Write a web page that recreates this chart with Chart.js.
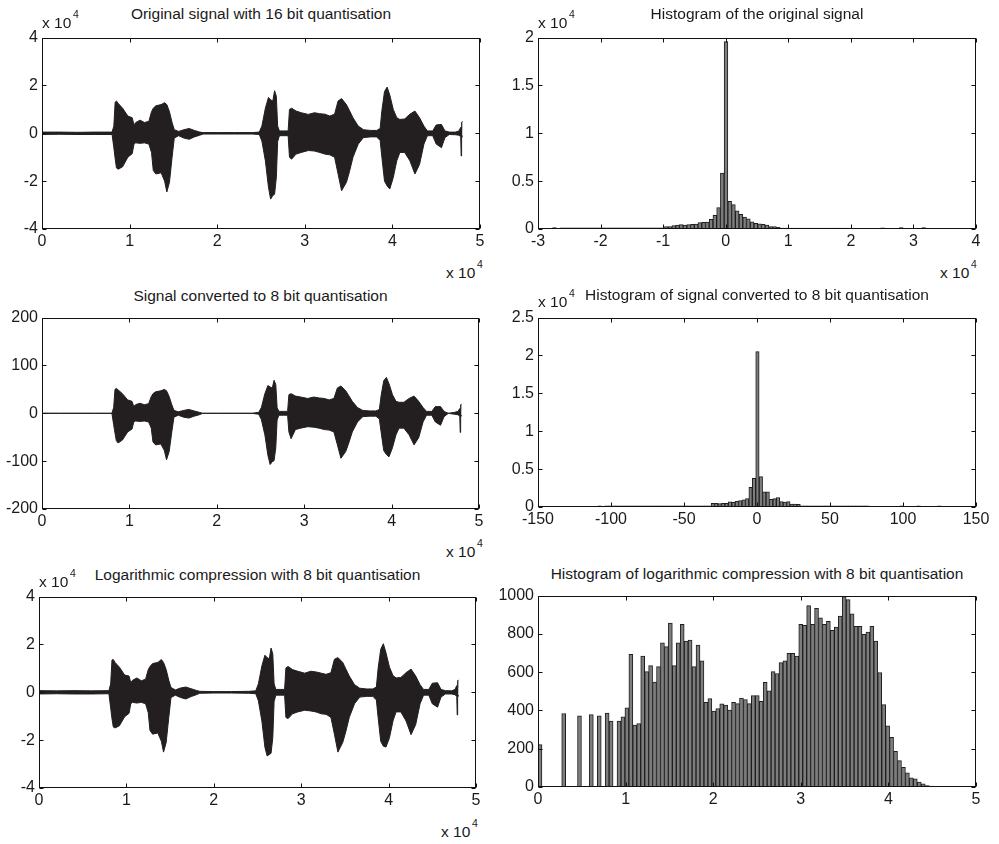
<!DOCTYPE html>
<html>
<head>
<meta charset="utf-8">
<script src="https://cdn.jsdelivr.net/npm/chart.js@4.4.1/dist/chart.umd.min.js"></script>
<style>
  body { margin: 0; background: #fff; }
  #fig { position: relative; width: 999px; height: 844px; overflow: hidden; background: #fff;
         font-family: "Liberation Sans", Arial, sans-serif; color: #1a1a1a; }
  #fig canvas { position: absolute; }
  .ttl { position: absolute; font-size: 15.5px; line-height: 15px; text-align: center; white-space: nowrap; }
  .exp { position: absolute; font-size: 15.5px; line-height: 15px; white-space: nowrap; }
  .sup { position: absolute; font-size: 10.5px; line-height: 10px; }
</style>
</head>
<body>
<div id="fig"></div>
<script>
// time axis of the waveforms (samples, x 10^4)
const sigTime = [0, 0.2, 0.4, 0.6, 0.8, 0.82, 0.835, 0.85, 0.87, 0.92,
  0.98, 1.03, 1.05, 1.07, 1.12, 1.17, 1.22, 1.25, 1.27, 1.30,
  1.36, 1.40, 1.425, 1.455, 1.485, 1.51, 1.56, 1.62, 1.68, 1.74,
  1.80, 1.84, 2.0, 2.2, 2.4, 2.48, 2.51, 2.55, 2.585, 2.61,
  2.635, 2.655, 2.675, 2.69, 2.71, 2.76, 2.81, 2.825, 2.85, 2.90,
  2.96, 3.04, 3.11, 3.17, 3.23, 3.285, 3.34, 3.38, 3.42, 3.475,
  3.51, 3.55, 3.61, 3.67, 3.75, 3.82, 3.86, 3.88, 3.91, 3.94,
  3.97, 4.01, 4.05, 4.085, 4.14, 4.2, 4.257, 4.31, 4.36, 4.40,
  4.46, 4.5, 4.56, 4.6, 4.65, 4.72, 4.76, 4.78, 4.785, 4.79, 4.8];

// original 16 bit signal envelope (x 10^4)
const sig16Hi = [0.05, 0.05, 0.04, 0.05, 0.05, 0.3, 1.3, 1.35, 1.25, 1.05,
  0.72, 0.65, 0.35, 0.45, 0.55, 0.45, 0.5, 0.9, 1.05, 1.15,
  1.2, 1.28, 1.2, 0.9, 0.45, 0.15, 0.08, 0.15, 0.2, 0.12,
  0.05, 0.03, 0.03, 0.03, 0.03, 0.05, 0.3, 1.05, 1.5, 1.4,
  1.35, 1.78, 1.55, 0.3, 0.1, 0.1, 0.1, 1.0, 1.05, 0.93,
  0.86, 0.79, 0.86, 0.82, 0.8, 0.72, 0.8, 1.35, 1.45, 1.2,
  0.95, 0.65, 0.3, 0.15, 0.12, 0.12, 0.2, 0.95, 1.75, 1.93,
  1.6, 1.0, 0.65, 0.58, 0.6, 0.8, 0.93, 0.65, 0.3, 0.1,
  0.1, 0.35, 0.37, 0.1, 0.05, 0.05, 0.1, 0.25, 0.15, 0.45, 0.5];
const sig16Lo = [-0.05, -0.04, -0.05, -0.05, -0.05, -0.6, -1.05, -1.45, -1.5, -1.4,
  -1.0, -0.85, -0.45, -0.4, -0.42, -0.4, -0.45, -0.8, -1.55, -1.7,
  -1.65, -2.0, -2.45, -2.05, -1.0, -0.2, -0.1, -0.2, -0.25, -0.15,
  -0.08, -0.03, -0.03, -0.03, -0.03, -0.05, -0.32, -1.15, -2.25, -2.75,
  -2.6, -2.55, -1.85, -0.35, -0.1, -0.1, -0.1, -1.0, -1.08, -0.87,
  -0.8, -0.72, -0.74, -0.8, -0.87, -0.9, -1.0, -1.7, -2.4, -2.05,
  -1.6, -1.0, -0.45, -0.18, -0.15, -0.15, -0.3, -1.0, -2.0, -2.2,
  -2.33, -1.85, -1.15, -0.8, -0.8, -1.15, -1.7, -1.3, -0.45, -0.1,
  -0.1, -0.45, -0.6, -0.18, -0.05, -0.06, -0.08, -0.15, -0.95, -0.2, -0.1];

// 8 bit signal envelope
const sig8Hi = [0, 0, 0, 0, 0, 12, 50, 52, 49, 41,
  28, 25, 14, 18, 21, 18, 20, 35, 41, 45,
  47, 50, 47, 35, 18, 6, 3, 6, 8, 5,
  2, 0, 0, 0, 0, 2, 12, 41, 58, 55,
  53, 69, 60, 12, 4, 4, 4, 39, 41, 36,
  34, 31, 34, 32, 31, 28, 31, 53, 57, 47,
  37, 25, 12, 6, 5, 5, 8, 37, 68, 75,
  62, 39, 25, 23, 23, 31, 36, 25, 12, 4,
  4, 14, 14, 4, 0, 2, 4, 10, 6, 18, 19];
const sig8Lo = [0, 0, 0, 0, 0, -24, -41, -57, -62, -56,
  -39, -33, -18, -16, -17, -16, -18, -31, -60, -66,
  -64, -78, -97, -80, -39, -8, -4, -8, -10, -6,
  -3, 0, 0, 0, 0, -2, -13, -45, -88, -107,
  -101, -99, -72, -14, -4, -4, -4, -39, -53, -34,
  -31, -28, -29, -31, -34, -35, -39, -66, -94, -80,
  -62, -39, -18, -7, -6, -6, -12, -39, -78, -86,
  -91, -72, -45, -31, -31, -45, -66, -51, -18, -4,
  -4, -18, -25, -7, 0, -2, -3, -6, -40, -8, -4];

// logarithmic compression envelope (x 10^4)
const sigLogHi = [0.07, 0.06, 0.07, 0.06, 0.07, 0.35, 1.35, 1.37, 1.25, 1.05,
  0.72, 0.68, 0.4, 0.5, 0.6, 0.48, 0.55, 0.95, 1.08, 1.2,
  1.25, 1.37, 1.25, 0.95, 0.5, 0.2, 0.1, 0.18, 0.22, 0.15,
  0.08, 0.04, 0.03, 0.03, 0.04, 0.06, 0.35, 1.1, 1.55, 1.45,
  1.4, 1.85, 1.6, 0.35, 0.12, 0.12, 0.12, 1.02, 1.08, 0.95,
  0.88, 0.8, 0.88, 0.85, 0.8, 0.75, 0.82, 1.38, 1.45, 1.25,
  0.98, 0.68, 0.32, 0.17, 0.14, 0.14, 0.22, 1.0, 1.8, 2.03,
  1.65, 1.05, 0.7, 0.6, 0.62, 0.82, 0.97, 0.68, 0.32, 0.12,
  0.12, 0.38, 0.4, 0.12, 0.07, 0.06, 0.12, 0.28, 0.18, 0.48, 0.52];
const sigLogLo = [-0.07, -0.06, -0.07, -0.07, -0.06, -0.65, -1.1, -1.45, -1.49, -1.4,
  -1.02, -0.88, -0.48, -0.42, -0.45, -0.42, -0.48, -0.85, -1.6, -1.75,
  -1.7, -2.05, -2.5, -2.1, -1.05, -0.22, -0.12, -0.22, -0.28, -0.18,
  -0.1, -0.04, -0.03, -0.03, -0.04, -0.06, -0.35, -1.2, -2.3, -2.66,
  -2.6, -2.55, -1.9, -0.38, -0.12, -0.12, -0.12, -1.05, -1.1, -0.9,
  -0.82, -0.75, -0.78, -0.82, -0.9, -0.92, -1.05, -1.75, -2.5, -2.1,
  -1.65, -1.05, -0.48, -0.2, -0.17, -0.17, -0.32, -1.05, -2.05, -2.25,
  -2.29, -1.9, -1.2, -0.82, -0.82, -1.2, -1.77, -1.35, -0.48, -0.12,
  -0.12, -0.48, -0.62, -0.2, -0.07, -0.07, -0.1, -0.18, -0.95, -0.22, -0.12];

// histograms: 100 bins each, first bin centre and bin width, counts
const hist16Start = -2.737, hist16Width = 0.0596;   // x 10^4
const hist16Counts = [0.014, 0, 0.012, 0.012, 0.012, 0.012, 0.012, 0.012, 0.012, 0.012,
  0.012, 0.012, 0.012, 0.012, 0.012, 0.012, 0.012, 0.012, 0.012, 0.012,
  0.012, 0.012, 0.012, 0.012, 0.012, 0.012, 0.012, 0.012, 0.012, 0.012,
  0.025, 0.025, 0.035, 0.04, 0.045, 0.04, 0.045, 0.048, 0.052, 0.066,
  0.069, 0.073, 0.1, 0.142, 0.225, 0.584, 1.958, 0.29, 0.255, 0.19,
  0.152, 0.124, 0.107, 0.076, 0.059, 0.055, 0.048, 0.04, 0.024, 0.024,
  0.018, 0.01, 0.01, 0.01, 0.01, 0.01, 0.01, 0.01, 0.01, 0.01,
  0.01, 0.01, 0.01, 0.01, 0.01, 0.01, 0.01, 0.01, 0.01, 0.01,
  0, 0, 0, 0, 0, 0, 0, 0, 0.012, 0,
  0, 0, 0, 0.015, 0, 0, 0, 0, 0, 0.015];

const hist8Start = -107.8, hist8Width = 2.35;
const hist8Counts = [0.015, 0, 0.015, 0.015, 0.015, 0.015, 0.015, 0.015, 0.015, 0.015,
  0.015, 0.015, 0.015, 0.015, 0.015, 0.015, 0.015, 0.015, 0.015, 0.015,
  0.015, 0.015, 0.015, 0.015, 0.015, 0.015, 0.015, 0.015, 0.015, 0.015,
  0.015, 0.015, 0.015, 0.05, 0.05, 0.045, 0.05, 0.05, 0.068, 0.06,
  0.075, 0.085, 0.095, 0.11, 0.26, 0.38, 2.05, 0.4, 0.2, 0.2,
  0.1, 0.11, 0.125, 0.073, 0.065, 0.073, 0.04, 0.04, 0.035, 0.015,
  0.015, 0.015, 0.015, 0.015, 0.015, 0.015, 0.015, 0.015, 0.015, 0.015,
  0.015, 0.015, 0.015, 0.015, 0.015, 0.015, 0.015, 0.015, 0.015, 0,
  0, 0, 0, 0, 0, 0, 0, 0, 0.015, 0,
  0, 0, 0, 0.015, 0, 0, 0, 0, 0, 0.015];

const histLogStart = 0.0226, histLogWidth = 0.0451;
const histLogCounts = [221, 0, 0, 0, 0, 0, 384, 0, 0, 0,
  372, 0, 0, 379, 0, 372, 0, 386, 345, 0,
  345, 366, 414, 693, 324, 331, 684, 603, 634, 548,
  629, 753, 733, 857, 634, 753, 850, 762, 767, 629,
  741, 659, 443, 462, 397, 410, 434, 428, 402, 443,
  436, 464, 457, 436, 478, 478, 448, 547, 503, 603,
  593, 650, 659, 698, 698, 684, 850, 845, 948, 850,
  934, 884, 850, 866, 819, 836, 893, 995, 979, 905,
  840, 840, 797, 810, 840, 762, 598, 431, 319, 259,
  186, 138, 103, 74, 48, 43, 26, 17, 7, 5];

const fig = document.getElementById('fig');
const ink = '#231f20';
const tickFont = { family: '"Liberation Sans", Arial, sans-serif', size: 16 };
Chart.defaults.font.family = tickFont.family;
Chart.defaults.color = '#1a1a1a';

// matlab style box with inward ticks
const boxAxes = {
  id: 'boxAxes',
  afterDraw(chart) {
    const ctx = chart.ctx, a = chart.chartArea;
    const sx = chart.scales.x, sy = chart.scales.y;
    const L = Math.round(a.left) + 0.5, R = Math.round(a.right) - 0.5;
    const T = Math.round(a.top) + 0.5, B = Math.round(a.bottom) - 0.5;
    ctx.save();
    ctx.strokeStyle = '#111';
    ctx.lineWidth = 1;
    ctx.beginPath();
    sx.ticks.forEach(t => {
      const p = Math.round(sx.getPixelForValue(t.value)) + 0.5;
      ctx.moveTo(p, B); ctx.lineTo(p, B - 4);
      ctx.moveTo(p, T); ctx.lineTo(p, T + 4);
    });
    sy.ticks.forEach(t => {
      const p = Math.round(sy.getPixelForValue(t.value)) + 0.5;
      ctx.moveTo(L, p); ctx.lineTo(L + 4, p);
      ctx.moveTo(R, p); ctx.lineTo(R - 4, p);
    });
    ctx.stroke();
    ctx.strokeRect(L, T, R - L, B - T);
    ctx.restore();
  }
};

function fmt(v) { return String(Math.round(v * 100) / 100); }

function addPanel(box, type, datasets, xr, yr) {
  const padR = 18, padT = 12, yW = 42, xH = 28;
  const cv = document.createElement('canvas');
  cv.width = box.r - box.l + yW + padR;
  cv.height = box.b - box.t + padT + xH;
  cv.style.left = (box.l - yW) + 'px';
  cv.style.top = (box.t - padT) + 'px';
  fig.appendChild(cv);
  new Chart(cv, {
    type: type,
    data: { datasets: datasets },
    options: {
      responsive: false,
      animation: false,
      devicePixelRatio: 1,
      layout: { padding: { left: 0, right: padR, top: padT, bottom: 0 } },
      plugins: { legend: { display: false }, tooltip: { enabled: false } },
      scales: {
        x: {
          type: 'linear', min: xr[0], max: xr[1], offset: false,
          grid: { display: false, drawTicks: false }, border: { display: false },
          ticks: { stepSize: xr[2], padding: 3, maxRotation: 0, autoSkip: false, callback: fmt, font: tickFont, color: '#1a1a1a' },
          afterFit: s => { s.height = xH; }
        },
        y: {
          min: yr[0], max: yr[1],
          grid: { display: false, drawTicks: false }, border: { display: false },
          ticks: { stepSize: yr[2], padding: 4, autoSkip: false, callback: fmt, font: tickFont, color: '#1a1a1a' },
          afterFit: s => { s.width = yW; }
        }
      }
    },
    plugins: [boxAxes]
  });
}

function envelope(hi, lo) {
  return [
    { data: sigTime.map((t, i) => ({ x: t, y: hi[i] })), fill: '+1', backgroundColor: ink,
      borderColor: ink, borderWidth: 1, pointRadius: 0, tension: 0 },
    { data: sigTime.map((t, i) => ({ x: t, y: lo[i] })), fill: false,
      borderColor: ink, borderWidth: 1, pointRadius: 0, tension: 0 }
  ];
}

function histBars(start, width, counts) {
  return [{
    data: counts.map((c, i) => ({ x: start + i * width, y: c })),
    backgroundColor: '#7d7d7d', borderColor: '#1e1e1e', borderWidth: 1,
    barPercentage: 1, categoryPercentage: 1
  }];
}

function addTitle(box, text, base) {
  const d = document.createElement('div');
  d.className = 'ttl';
  d.style.left = box.l + 'px';
  d.style.width = (box.r - box.l) + 'px';
  d.style.top = (base - 13) + 'px';
  d.textContent = text;
  fig.appendChild(d);
}

function addExp(left, base) {
  const d = document.createElement('div');
  d.className = 'exp';
  d.style.left = left + 'px';
  d.style.top = (base - 13) + 'px';
  d.textContent = 'x 10';
  fig.appendChild(d);
  const s = document.createElement('div');
  s.className = 'sup';
  s.style.left = (left + 31) + 'px';
  s.style.top = (base - 19) + 'px';
  s.textContent = '4';
  fig.appendChild(s);
}

const p1 = { l: 42, r: 480, t: 36, b: 229 };
const p2 = { l: 538, r: 976, t: 36, b: 229 };
const p3 = { l: 42, r: 479, t: 316, b: 509 };
const p4 = { l: 538, r: 976, t: 316, b: 507 };
const p5 = { l: 39, r: 476, t: 595, b: 788 };
const p6 = { l: 538, r: 976, t: 594, b: 787 };

addPanel(p1, 'line', envelope(sig16Hi, sig16Lo), [0, 5, 1], [-4, 4, 2]);
addPanel(p2, 'bar', histBars(hist16Start, hist16Width, hist16Counts), [-3, 4, 1], [0, 2, 0.5]);
addPanel(p3, 'line', envelope(sig8Hi, sig8Lo), [0, 5, 1], [-200, 200, 100]);
addPanel(p4, 'bar', histBars(hist8Start, hist8Width, hist8Counts), [-150, 150, 50], [0, 2.5, 0.5]);
addPanel(p5, 'line', envelope(sigLogHi, sigLogLo), [0, 5, 1], [-4, 4, 2]);
addPanel(p6, 'bar', histBars(histLogStart, histLogWidth, histLogCounts), [0, 5, 1], [0, 1000, 200]);

addTitle(p1, 'Original signal with 16 bit quantisation', 19);
addTitle(p2, 'Histogram of the original signal', 19);
addTitle(p3, 'Signal converted to 8 bit quantisation', 301);
addTitle(p4, 'Histogram of signal converted to 8 bit quantisation', 300);
addTitle(p5, 'Logarithmic compression with 8 bit quantisation', 580);
addTitle(p6, 'Histogram of logarithmic compression with 8 bit quantisation', 579);

addExp(42, 28);
addExp(446, 278);
addExp(538, 28);
addExp(940, 278);
addExp(446, 557);
addExp(538, 307);
addExp(39, 587);
addExp(441, 837);
</script>
</body>
</html>
